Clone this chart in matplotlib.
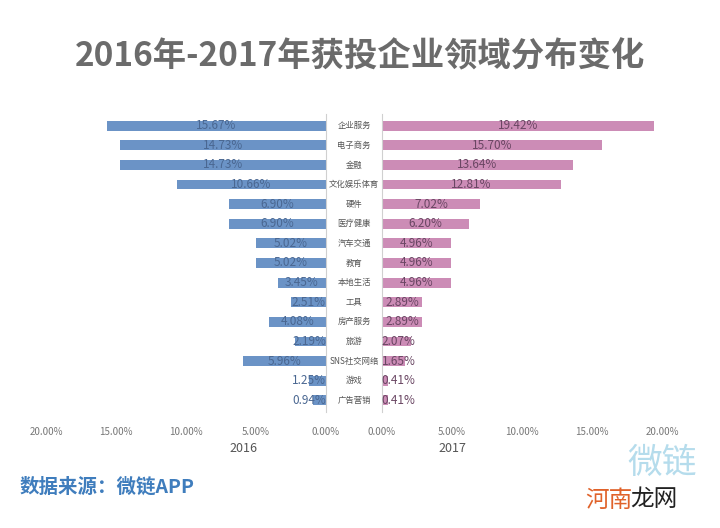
import matplotlib
matplotlib.use("Agg")
import matplotlib.pyplot as plt
import numpy as np

plt.rcParams['font.family'] = ['Noto Sans CJK SC', 'DejaVu Sans']

# data
categories = ["企业服务", "电子商务", "金融", "文化娱乐体育", "硬件", "医疗健康",
              "汽车交通", "教育", "本地生活", "工具", "房产服务", "旅游",
              "SNS社交网络", "游戏", "广告营销"]
v2016 = [15.67, 14.73, 14.73, 10.66, 6.90, 6.90, 5.02, 5.02, 3.45, 2.51,
         4.08, 2.19, 5.96, 1.25, 0.94]
v2017 = [19.42, 15.70, 13.64, 12.81, 7.02, 6.20, 4.96, 4.96, 4.96, 2.89,
         2.89, 2.07, 1.65, 0.41, 0.41]
ticks = [0, 5, 10, 15, 20]

W, H = 720, 528
fig = plt.figure(figsize=(W / 100, H / 100), dpi=100)
fig.patch.set_facecolor("white")


def px_axes(x0, y0, x1, y1):
    return fig.add_axes([x0 / W, 1 - y1 / H, (x1 - x0) / W, (y1 - y0) / H])


ax_l = px_axes(46, 114, 326, 412)
ax_r = px_axes(382, 114, 662, 412)

y = np.arange(len(categories))
blue = "#6b93c6"
pink = "#cc8cb6"

ax_l.barh(y, v2016, height=0.5, color=blue)
ax_r.barh(y, v2017, height=0.5, color=pink)

ax_l.set_xlim(20, 0)
ax_r.set_xlim(0, 20)
for ax in (ax_l, ax_r):
    ax.set_ylim(14.6, -0.6)
    ax.set_yticks([])
    ax.set_xticks(ticks)
    ax.set_xticklabels([f"{t:.2f}%" for t in ticks], fontsize=7, color="#777777")
    ax.tick_params(axis="x", length=0, pad=11)
    for s in ("top", "bottom", "left", "right"):
        ax.spines[s].set_visible(False)
ax_l.spines["right"].set_visible(True)
ax_l.spines["right"].set_color("#d0d0d0")
ax_r.spines["left"].set_visible(True)
ax_r.spines["left"].set_color("#d0d0d0")

# value labels, centred on bars, kept clear of the axis line
for i, v in enumerate(v2016):
    ax_l.text(max(v / 2, 1.2), i, f"{v:.2f}%", ha="center", va="center",
              fontsize=8.5, color="#4a6791")
for i, v in enumerate(v2017):
    ax_r.text(max(v / 2, 1.2), i, f"{v:.2f}%", ha="center", va="center",
              fontsize=8.5, color="#6a4663")

# category names between the two panels
for i, c in enumerate(categories):
    ax_l.text(-2.0, i, c, ha="center", va="center", fontsize=6, color="#555555",
              clip_on=False)

fig.text(243 / W, 1 - 449 / H, "2016", ha="center", va="center", fontsize=9, color="#555555")
fig.text(452 / W, 1 - 449 / H, "2017", ha="center", va="center", fontsize=9, color="#555555")

fig.text(0.5, 1 - 57 / H, "2016年-2017年获投企业领域分布变化", ha="center", va="center",
         fontsize=24, fontweight="bold", color="#6b6b6b")

fig.text(20 / W, 1 - 487 / H, "数据来源：微链APP", ha="left", va="center",
         fontsize=14, fontweight="bold", color="#3f7dbd")

# watermark
fig.text(662 / W, 1 - 463 / H, "微链", ha="center", va="center", fontsize=25,
         color="#b5dcec")
fig.text(585 / W, 1 - 500 / H, "河南", ha="left", va="center", fontsize=17,
         color="#e0622a")
fig.text(630 / W, 1 - 500 / H, "龙网", ha="left", va="center", fontsize=17,
         color="#222222")

fig.savefig("out.png", dpi=100)
